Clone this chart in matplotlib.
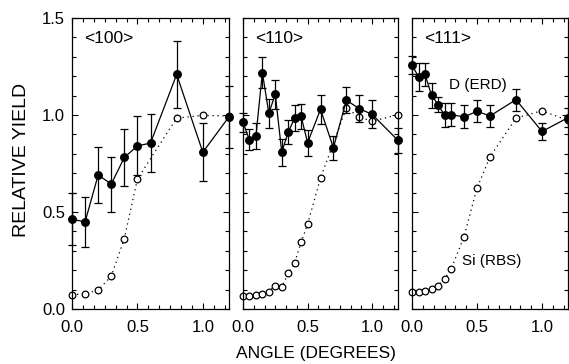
import numpy as np
import matplotlib
matplotlib.use("Agg")
import matplotlib.pyplot as plt
from matplotlib.ticker import MultipleLocator

plt.rcParams['font.family'] = ['Liberation Sans', 'DejaVu Sans']

# <100>
d100_x = [0.0, 0.1, 0.2, 0.3, 0.4, 0.5, 0.6, 0.8, 1.0, 1.2]
d100_y = [0.463, 0.449, 0.691, 0.644, 0.781, 0.841, 0.855, 1.209, 0.808, 0.991]
d100_err = [0.135, 0.13, 0.144, 0.142, 0.147, 0.152, 0.15, 0.171, 0.149, 0.161]
si100_x = [0.0, 0.1, 0.2, 0.3, 0.4, 0.5, 0.8, 1.0, 1.2]
si100_y = [0.073, 0.079, 0.097, 0.169, 0.363, 0.670, 0.984, 0.998, 0.995]

# <110>
d110_x = [0.0, 0.05, 0.1, 0.15, 0.2, 0.25, 0.3, 0.35, 0.4, 0.45, 0.5, 0.6, 0.7, 0.8, 0.9, 1.0, 1.2]
d110_y = [0.962, 0.872, 0.891, 1.219, 1.009, 1.107, 0.808, 0.912, 0.984, 0.993,
          0.857, 1.029, 0.831, 1.076, 1.033, 1.003, 0.869]
d110_err = [0.05, 0.054, 0.066, 0.078, 0.075, 0.075, 0.069, 0.06, 0.065, 0.065,
            0.067, 0.074, 0.063, 0.067, 0.07, 0.072, 0.066]
si110_x = [0.0, 0.05, 0.1, 0.15, 0.2, 0.25, 0.3, 0.35, 0.4, 0.45, 0.5, 0.6, 0.8, 0.9, 1.0, 1.2]
si110_y = [0.066, 0.066, 0.071, 0.079, 0.09, 0.121, 0.114, 0.183, 0.238, 0.345,
           0.437, 0.675, 1.036, 0.99, 0.967, 1.002]

# <111>
d111_x = [0.0, 0.05, 0.1, 0.15, 0.2, 0.25, 0.3, 0.4, 0.5, 0.6, 0.8, 1.0, 1.2]
d111_y = [1.257, 1.197, 1.209, 1.102, 1.054, 0.998, 1.002, 0.99, 1.019, 0.995, 1.079, 0.915, 0.986]
d111_err = [0.045, 0.072, 0.06, 0.065, 0.04, 0.062, 0.058, 0.059, 0.056, 0.059, 0.056, 0.043, 0.05]
si111_x = [0.0, 0.05, 0.1, 0.15, 0.2, 0.25, 0.3, 0.4, 0.5, 0.6, 0.8, 1.0, 1.2]
si111_y = [0.086, 0.086, 0.093, 0.104, 0.121, 0.155, 0.204, 0.373, 0.623, 0.784, 0.984, 1.022, 0.972]

panels = [
    ("<100>", d100_x, d100_y, d100_err, si100_x, si100_y),
    ("<110>", d110_x, d110_y, d110_err, si110_x, si110_y),
    ("<111>", d111_x, d111_y, d111_err, si111_x, si111_y),
]

fig = plt.figure(figsize=(5.69, 3.64), dpi=100)
lefts = [72, 243, 412]
widths = [157, 155, 156]
axes = []
for i, (name, dx, dy, de, sx, sy) in enumerate(panels):
    ax = fig.add_axes([lefts[i] / 569, 55 / 364, widths[i] / 569, 291 / 364])
    axes.append(ax)
    ax.plot(sx, sy, linestyle=(0, (1, 3)), color='black', lw=0.9,
            marker='o', ms=4.8, mfc='white', mec='black', mew=0.9, clip_on=False, zorder=2)
    ax.errorbar(dx, dy, yerr=de, fmt='-o', color='black', lw=0.9, ms=5.4,
                elinewidth=0.9, capsize=3, capthick=0.9, clip_on=False, zorder=3)
    ax.set_xlim(0, 1.2)
    ax.set_ylim(0, 1.5)
    ax.xaxis.set_major_locator(MultipleLocator(0.5))
    ax.xaxis.set_minor_locator(MultipleLocator(0.5 / 6))
    ax.yaxis.set_major_locator(MultipleLocator(0.5))
    ax.yaxis.set_minor_locator(MultipleLocator(0.1))
    ax.tick_params(which='both', direction='in', top=True, right=True, width=0.8,
                   labelsize=12, pad=8)
    ax.tick_params(which='major', length=4.5)
    ax.tick_params(which='minor', length=3)
    ax.xaxis.set_major_formatter(plt.FormatStrFormatter('%.1f'))
    ax.yaxis.set_major_formatter(plt.FormatStrFormatter('%.1f'))
    for s in ax.spines.values():
        s.set_linewidth(0.9)
    if i > 0:
        ax.tick_params(labelleft=False)
    ax.text(0.075, 0.93, name, transform=ax.transAxes, fontsize=12.5,
            ha='left', va='center')

axes[0].tick_params(axis='y', pad=5)
axes[2].text(0.285, 1.155, "D (ERD)", fontsize=11, ha='left', va='center')
axes[2].text(0.385, 0.247, "Si (RBS)", fontsize=11, ha='left', va='center')

fig.text(22 / 569, 0.56, "RELATIVE YIELD", rotation=90, fontsize=14,
         ha='center', va='center')
fig.text(316 / 569, 0.03, "ANGLE (DEGREES)", fontsize=12.5, ha='center', va='center')

fig.savefig("out.png", dpi=100)
